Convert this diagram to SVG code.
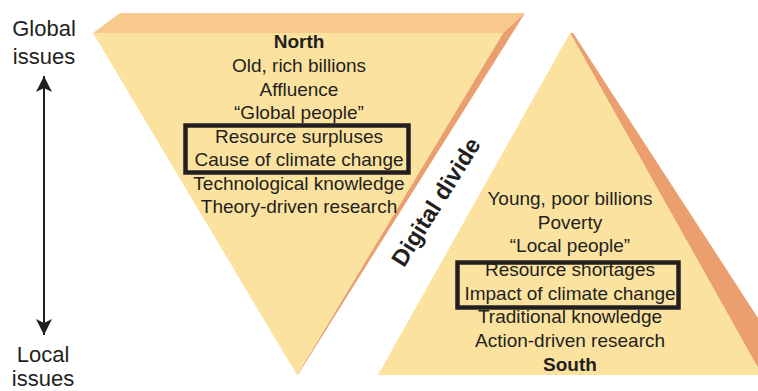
<svg xmlns="http://www.w3.org/2000/svg" width="758" height="391" viewBox="0 0 758 391">
  <defs>
    <style>
      .t { font-family: "Liberation Sans", Arial, sans-serif; font-size: 19px; fill: #231f20; text-anchor: middle; }
      .b { font-weight: bold; }
      .ax { font-family: "Liberation Sans", Arial, sans-serif; font-size: 22px; fill: #231f20; text-anchor: middle; }
      .face { fill: #fbe29f; }
      .top { fill: #f8c98c; }
      .side { fill: #eb9f6f; }
      .box { fill: none; stroke: #231f20; stroke-width: 4.5; }
    </style>
    <marker id="ah" viewBox="0 0 16 18" refX="16" refY="8" markerWidth="16" markerHeight="18" markerUnits="userSpaceOnUse" orient="auto-start-reverse">
      <path d="M0,0 L16,8 L0,16 L4,8 Z" fill="#231f20"/>
    </marker>
  </defs>
  <rect width="758" height="391" fill="#ffffff"/>

  <g id="north">
    <polygon class="top" points="120,13 525,13 503,33 93,33"/>
    <polygon class="side" points="525,13 503,33 297,375 299,373"/>
    <polygon class="face" points="93,33 503,33 297,375"/>
    <rect class="box" x="185.5" y="125.5" width="223" height="47"/>
    <text class="t b" x="299" y="48">North</text>
    <text class="t" x="299" y="72">Old, rich billions</text>
    <text class="t" x="299" y="96">Affluence</text>
    <text class="t" x="299" y="119">“Global people”</text>
    <text class="t" x="299" y="143">Resource surpluses</text>
    <text class="t" x="299" y="166">Cause of climate change</text>
    <text class="t" x="299" y="190">Technological knowledge</text>
    <text class="t" x="299" y="213">Theory-driven research</text>
  </g>

  <g id="south">
    <polygon class="side" points="570,33 573,33 795,375 762,375"/>
    <polygon class="face" points="570,33 378,375 762,375"/>
    <rect class="box" x="457.5" y="262.5" width="221" height="45"/>
    <text class="t" x="570" y="205">Young, poor billions</text>
    <text class="t" x="570" y="229">Poverty</text>
    <text class="t" x="570" y="252">“Local people”</text>
    <text class="t" x="570" y="276">Resource shortages</text>
    <text class="t" x="570" y="300">Impact of climate change</text>
    <text class="t" x="570" y="323">Traditional knowledge</text>
    <text class="t" x="570" y="347">Action-driven research</text>
    <text class="t b" x="570" y="371">South</text>
  </g>

  <g id="divide">
    <text class="t b" transform="translate(436,202) rotate(-58)" x="0" y="8" style="font-size:23.5px">Digital divide</text>
  </g>

  <g id="global-label">
    <text class="ax" x="44" y="36">Global</text>
    <text class="ax" x="44" y="64">issues</text>
  </g>
  <g id="local-label">
    <text class="ax" x="43" y="362">Local</text>
    <text class="ax" x="43" y="386">issues</text>
  </g>

  <g id="connectors">
    <line x1="44" y1="76" x2="44" y2="335" stroke="#231f20" stroke-width="2" marker-start="url(#ah)" marker-end="url(#ah)"/>
  </g>
</svg>
